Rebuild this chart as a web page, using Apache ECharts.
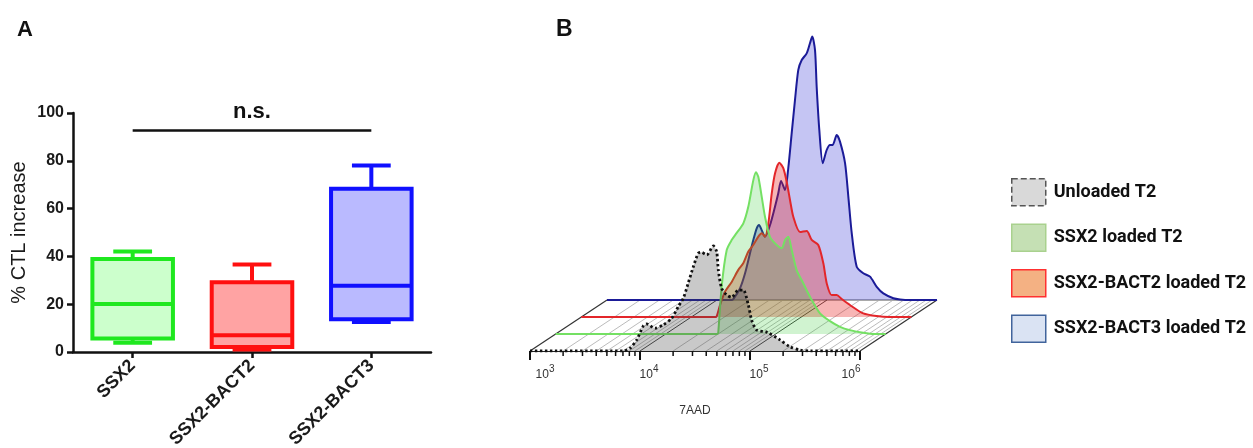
<!DOCTYPE html>
<html><head><meta charset="utf-8">
<script src="https://cdn.jsdelivr.net/npm/echarts/dist/echarts.min.js"></script>
<style>html,body{margin:0;padding:0;background:#fff}#c{width:1253px;height:448px}</style>
</head><body><div id="c"></div>
<script>
// ---------- Panel A data ----------
const boxCategories = ['SSX2', 'SSX2-BACT2', 'SSX2-BACT3'];
const boxMin    = [3.9, 1.0, 12.6];
const boxQ1     = [5.6, 2.1, 13.7];
const boxMedian = [20.1, 7.0, 27.7];
const boxQ3     = [38.9, 29.2, 68.3];
const boxMax    = [42.0, 36.6, 78.0];
const nsLevel = 92.7;
const nsLabel = 'n.s.';

// ---------- Panel B data (x = log10 of 7AAD intensity, y = counts) ----------
const histNames = ['Unloaded T2', 'SSX2 loaded T2', 'SSX2-BACT2 loaded T2', 'SSX2-BACT3 loaded T2'];
const unloadedX = [3.0, 3.85, 3.909, 3.970, 4.030, 4.061, 4.136, 4.212, 4.288, 4.348, 4.394, 4.439, 4.485, 4.530, 4.561, 4.606, 4.667, 4.697, 4.712, 4.742, 4.788, 4.833, 4.894, 4.939, 4.985, 5.015, 5.061, 5.152, 5.273, 5.364, 5.455, 5.55, 6.0];
const unloadedY = [0, 0, 0.9, 3.7, 8.3, 9.0, 7.6, 8.7, 10.9, 14.8, 17.6, 22.7, 28.1, 32.6, 32.9, 32.0, 35.0, 33.1, 27.0, 20.9, 18.7, 17.9, 20.3, 20.3, 15.3, 10.3, 7.0, 6.3, 3.7, 1.4, 0.3, 0, 0];
const ssx2X = [3.0, 4.47, 4.478, 4.509, 4.555, 4.600, 4.646, 4.706, 4.751, 4.797, 4.821, 4.842, 4.873, 4.903, 4.948, 5.009, 5.055, 5.085, 5.115, 5.146, 5.191, 5.251, 5.312, 5.403, 5.494, 5.585, 5.676, 5.797, 5.9, 6.0];
const ssx2Y = [0, 0, 0.5, 15.8, 28.0, 31.3, 33.7, 36.9, 42.4, 51.3, 53.9, 52.4, 45.8, 39.1, 32.4, 29.7, 28.6, 31.3, 32.4, 28.0, 21.3, 16.9, 12.4, 6.9, 4.3, 2.4, 1.3, 0.4, 0, 0];
const bact2X = [3.0, 4.22, 4.231, 4.261, 4.306, 4.367, 4.427, 4.472, 4.518, 4.563, 4.609, 4.640, 4.670, 4.700, 4.731, 4.761, 4.800, 4.836, 4.867, 4.897, 4.927, 4.988, 5.049, 5.094, 5.154, 5.200, 5.231, 5.276, 5.321, 5.367, 5.442, 5.563, 5.685, 5.8, 6.0];
const bact2Y = [0, 0, 0.3, 4.0, 8.4, 11.7, 15.7, 17.9, 21.8, 24.0, 26.8, 27.9, 26.8, 31.2, 41.2, 47.9, 51.4, 49.6, 45.0, 39.0, 33.4, 28.3, 28.7, 25.7, 24.0, 17.9, 11.2, 7.3, 7.3, 6.0, 4.0, 1.2, 0.3, 0, 0];
const bact3X = [3.0, 4.13, 4.148, 4.209, 4.255, 4.300, 4.330, 4.361, 4.382, 4.406, 4.436, 4.482, 4.527, 4.557, 4.582, 4.618, 4.648, 4.679, 4.709, 4.739, 4.770, 4.815, 4.845, 4.866, 4.891, 4.906, 4.930, 4.961, 4.997, 5.027, 5.052, 5.088, 5.118, 5.164, 5.194, 5.225, 5.270, 5.330, 5.391, 5.452, 5.512, 5.603, 5.664, 5.75, 6.0];
const bact3Y = [0, 0, 0.3, 3.9, 8.9, 15.6, 20.0, 23.9, 25.0, 23.3, 21.1, 25.0, 31.1, 35.6, 39.7, 36.7, 44.0, 55.6, 66.7, 76.7, 80.0, 82.2, 85.6, 87.8, 83.3, 71.1, 56.7, 45.6, 50.0, 51.7, 51.7, 55.0, 52.8, 45.6, 34.4, 22.2, 11.1, 8.9, 7.8, 4.4, 2.2, 0.6, 0.2, 0, 0];
const decades = [3, 4, 5, 6];

// ---------- styles / layout ----------
const FONT = '"Liberation Sans", Arial, sans-serif';
const boxStroke = ['#1fe81f', '#ff1010', '#1010ff'];
const boxFill = ['#ccffcc', '#ffa3a3', '#babaff'];
const histLine = ['#111111', '#74e063', '#e3262a', '#1b1b98'];
const histArea = ['rgba(60,60,60,0.28)', 'rgba(40,200,40,0.22)', 'rgba(230,30,30,0.33)', 'rgba(40,40,210,0.27)'];
const legendStyles = [
  {color: '#d9d9d9', borderColor: '#555', borderWidth: 1.5, borderType: 'dashed'},
  {color: '#c5e0b4', borderColor: '#a9d18e', borderWidth: 1.5},
  {color: '#f4b183', borderColor: '#ff3030', borderWidth: 1.5},
  {color: '#dae3f3', borderColor: '#41649c', borderWidth: 1.5}
];
const B_LEFT = 530, B_WIDTH = 330, B_BASE = 351, B_HEIGHT = 300, LAYER_DX = 25.67, LAYER_DY = 17;
const BACK_DX = LAYER_DX * 3, BACK_DY = LAYER_DY * 3;

const histX = [unloadedX, ssx2X, bact2X, bact3X];
const histY = [unloadedY, ssx2Y, bact2Y, bact3Y];

// floor tick positions (log10 of 1..9 x 10^d)
const floorTicks = [];
for (let d = 3; d < 6; d++) for (let k = 1; k <= 9; k++) floorTicks.push(d + Math.log10(k));
floorTicks.push(6);

const chart = echarts.init(document.getElementById('c'), null, {renderer: 'canvas'});

const grids = [{left: 73, top: 113, width: 358, height: 239, outerBoundsMode: 'none'}];
const xAxes = [{
  gridIndex: 0, type: 'category', data: boxCategories,
  axisLine: {show: true, lineStyle: {color: '#111', width: 2.5}},
  axisTick: {show: true, alignWithLabel: true, length: 6, lineStyle: {color: '#111', width: 2.5}},
  axisLabel: {rotate: 45, interval: 0, fontSize: 18, fontWeight: 'bold', color: '#1a1a1a', margin: 11, fontFamily: FONT},
  splitLine: {show: false}
}];
const yAxes = [{
  gridIndex: 0, type: 'value', min: 0, max: 100, interval: 20,
  axisLine: {show: true, lineStyle: {color: '#111', width: 2.5}},
  axisTick: {show: true, length: 6, lineStyle: {color: '#111', width: 2.5}},
  axisLabel: {fontSize: 16, fontWeight: 'bold', color: '#1a1a1a', margin: 9, fontFamily: FONT},
  splitLine: {show: false},
  name: '% CTL increase', nameLocation: 'middle', nameGap: 44, nameRotate: 90,
  nameTextStyle: {fontSize: 20, color: '#1a1a1a', fontFamily: FONT}
}];

for (let L = 0; L < 4; L++) {
  grids.push({left: B_LEFT + L * LAYER_DX, top: B_BASE - L * LAYER_DY - B_HEIGHT, width: B_WIDTH, height: B_HEIGHT, outerBoundsMode: 'none'});
  if (L === 0) {
    xAxes.push({
      gridIndex: 1, type: 'value', min: 3, max: 6, interval: 1,
      axisLine: {show: true, lineStyle: {color: '#222', width: 1}},
      axisTick: {show: true, length: 9, lineStyle: {color: '#111', width: 2}},
      splitLine: {show: false},
      axisLabel: {
        margin: 13,
        formatter: function (v) {
          const e = Math.round(v);
          if (e === 3) return '{b3|10}{s|3}';
          if (e === 6) return '{b|10}{s6|6}';
          return '{b4|10}{s|' + e + '}';
        },
        rich: {
          b:  {fontSize: 12, color: '#333', verticalAlign: 'bottom', lineHeight: 17, fontFamily: FONT},
          b3: {fontSize: 12, color: '#333', verticalAlign: 'bottom', lineHeight: 17, fontFamily: FONT, padding: [0, 0, 0, 30]},
          b4: {fontSize: 12, color: '#333', verticalAlign: 'bottom', lineHeight: 17, fontFamily: FONT, padding: [0, 0, 0, 18]},
          s:  {fontSize: 10, color: '#333', verticalAlign: 'top', lineHeight: 17, fontFamily: FONT},
          s6: {fontSize: 10, color: '#333', verticalAlign: 'top', lineHeight: 17, fontFamily: FONT, padding: [0, 18, 0, 0]}
        }
      },
      name: '7AAD', nameLocation: 'middle', nameGap: 54,
      nameTextStyle: {fontSize: 12, color: '#333', fontFamily: FONT}
    });
  } else {
    xAxes.push({gridIndex: L + 1, type: 'value', min: 3, max: 6, show: false});
  }
  yAxes.push({gridIndex: L + 1, type: 'value', min: 0, max: 100, show: false});
}

const series = [];

// Panel A: box plots
series.push({
  type: 'custom', name: 'boxes', xAxisIndex: 0, yAxisIndex: 0, z: 3,
  data: boxCategories.map((c, i) => [i, boxMin[i], boxQ1[i], boxMedian[i], boxQ3[i], boxMax[i]]),
  encode: {x: 0, y: [1, 2, 3, 4, 5]},
  renderItem: function (params, api) {
    const i = api.value(0);
    const band = api.size([1, 0])[0];
    const w = band * 0.675, cw = band * 0.325;
    const pMin = api.coord([i, api.value(1)]);
    const pQ1 = api.coord([i, api.value(2)]);
    const pMed = api.coord([i, api.value(3)]);
    const pQ3 = api.coord([i, api.value(4)]);
    const pMax = api.coord([i, api.value(5)]);
    const x = pMed[0];
    const st = {stroke: boxStroke[i], lineWidth: 4, fill: null};
    return {type: 'group', children: [
      {type: 'line', shape: {x1: x, y1: pQ3[1], x2: x, y2: pMax[1]}, style: st},
      {type: 'line', shape: {x1: x - cw / 2, y1: pMax[1], x2: x + cw / 2, y2: pMax[1]}, style: st},
      {type: 'line', shape: {x1: x, y1: pQ1[1], x2: x, y2: pMin[1]}, style: st},
      {type: 'line', shape: {x1: x - cw / 2, y1: pMin[1], x2: x + cw / 2, y2: pMin[1]}, style: st},
      {type: 'rect', shape: {x: x - w / 2, y: pQ3[1], width: w, height: pQ1[1] - pQ3[1]},
        style: {fill: boxFill[i], stroke: boxStroke[i], lineWidth: 4}},
      {type: 'line', shape: {x1: x - w / 2, y1: pMed[1], x2: x + w / 2, y2: pMed[1]}, style: st}
    ]};
  }
});

// n.s. bar
series.push({
  type: 'line', name: 'ns', xAxisIndex: 0, yAxisIndex: 0, z: 4,
  symbol: 'circle', symbolSize: 1, itemStyle: {color: 'rgba(0,0,0,0)'},
  lineStyle: {color: '#111', width: 2.5},
  data: [[0, nsLevel], {value: [1, nsLevel], label: {show: true, formatter: nsLabel, position: 'top', distance: 7,
    fontSize: 22, fontWeight: 'bold', color: '#111', fontFamily: FONT}}, [2, nsLevel]]
});

// Panel B floor: hatch lines, minor ticks, edges
series.push({
  type: 'custom', name: 'floor', xAxisIndex: 1, yAxisIndex: 1, z: 1,
  data: floorTicks.map(v => [v, 0]),
  renderItem: function (params, api) {
    const v = api.value(0);
    const p = api.coord([v, 0]);
    const major = Math.abs(v - Math.round(v)) < 1e-6;
    const edge = major && (Math.round(v) === 3 || Math.round(v) === 6);
    const ch = [];
    ch.push({type: 'line', shape: {x1: p[0], y1: p[1], x2: p[0] + BACK_DX, y2: p[1] - BACK_DY},
      style: {stroke: edge ? '#333' : (major ? '#444' : '#aaaaaa'), lineWidth: edge ? 1.2 : (major ? 1 : 0.8)}});
    if (!major) {
      ch.push({type: 'line', shape: {x1: p[0], y1: p[1], x2: p[0], y2: p[1] + 5}, style: {stroke: '#111', lineWidth: 1.5}});
    }
    if (params.dataIndex === 0) {
      const q = api.coord([6, 0]);
      ch.push({type: 'line', shape: {x1: p[0] + BACK_DX, y1: p[1] - BACK_DY, x2: q[0] + BACK_DX, y2: q[1] - BACK_DY},
        style: {stroke: '#555', lineWidth: 1}});
    }
    return {type: 'group', children: ch};
  }
});

// histograms, back to front
const order = [3, 2, 1, 0];
order.forEach((L, k) => {
  series.push({
    type: 'line', name: histNames[L], xAxisIndex: L + 1, yAxisIndex: L + 1, z: 2 + k,
    symbol: 'none', smooth: 0.25,
    data: histX[L].map((x, j) => [x, histY[L][j]]),
    lineStyle: L === 0 ? {color: histLine[L], width: 2.8, type: [2.4, 2.6]} : {color: histLine[L], width: 2},
    itemStyle: {color: histLine[L]},
    areaStyle: {color: histArea[L], opacity: 1}
  });
});

chart.setOption({
  animation: false,
  backgroundColor: '#fff',
  textStyle: {fontFamily: FONT},
  grid: grids, xAxis: xAxes, yAxis: yAxes, series: series,
  legend: {
    orient: 'vertical', left: 1006, top: 173, itemWidth: 34, itemHeight: 27, itemGap: 17,
    selectedMode: false, icon: 'rect',
    textStyle: {fontFamily: 'Roboto, sans-serif', fontWeight: 'bold', fontSize: 18, color: '#111', padding: [0, 0, 0, 3]},
    data: histNames.map((n, i) => ({name: n, icon: 'rect', itemStyle: legendStyles[i]}))
  },
  graphic: [
    {type: 'text', left: 17, top: 19, style: {text: 'A', font: 'bold 22px ' + FONT, fill: '#111'}},
    {type: 'text', left: 556, top: 18, style: {text: 'B', font: 'bold 23px ' + FONT, fill: '#111'}}
  ]
});
</script></body></html>
